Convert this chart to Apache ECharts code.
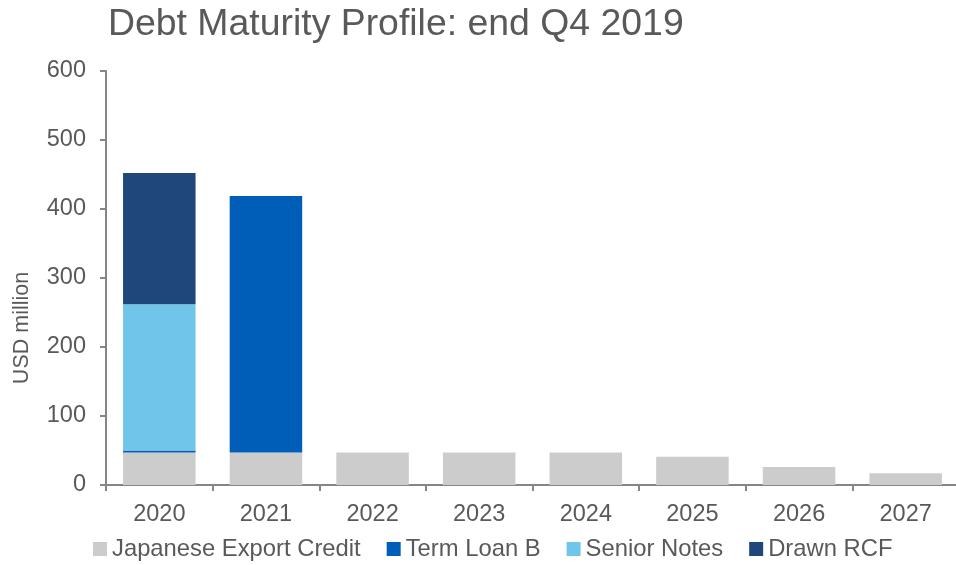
<!DOCTYPE html>
<html>
<head>
<meta charset="utf-8">
<script src="https://cdn.jsdelivr.net/npm/echarts@6/dist/echarts.min.js"></script>
<style>
  html, body { margin: 0; padding: 0; background: #fff; }
  #chart { width: 956px; height: 565px; }
</style>
</head>
<body>
<div id="chart"></div>
<script>
var years = ['2020', '2021', '2022', '2023', '2024', '2025', '2026', '2027'];
var japaneseExportCredit = [47, 47, 47, 47, 47, 41, 26, 17];
var termLoanB = [3, 372, 0, 0, 0, 0, 0, 0];
var seniorNotes = [212, 0, 0, 0, 0, 0, 0, 0];
var drawnRCF = [190, 0, 0, 0, 0, 0, 0, 0];
var yTicks = [0, 100, 200, 300, 400, 500, 600];

var chart = echarts.init(document.getElementById('chart'));
var txt = '#595959';
var axisCol = '#868686';

function bar(name, data, color) {
    return {
        name: name,
        type: 'bar',
        stack: 'total',
        barCategoryGap: '32%',
        itemStyle: { color: color },
        data: data
    };
}

var option = {
    backgroundColor: '#fff',
    textStyle: { fontFamily: 'Liberation Sans' },
    title: {
        text: 'Debt Maturity Profile: end Q4 2019',
        left: 103,
        top: 1,
        textStyle: { color: txt, fontSize: 37.4, fontWeight: 'normal', fontFamily: 'Liberation Sans' }
    },
    legend: {
        bottom: -1,
        left: 88,
        itemWidth: 14,
        itemHeight: 14,
        itemGap: 26,
        icon: 'rect',
        textStyle: { color: txt, fontSize: 23.8 },
        data: ['Japanese Export Credit', 'Term Loan B', 'Senior Notes', 'Drawn RCF']
    },
    grid: { left: 106, right: -3, top: 71, bottom: 80, outerBoundsMode: 'none' },
    xAxis: {
        type: 'category',
        data: years,
        axisLine: { lineStyle: { color: axisCol, width: 2 } },
        axisTick: { show: true, length: 6, lineStyle: { color: axisCol, width: 2 } },
        axisLabel: { color: txt, fontSize: 23.5, margin: 18 }
    },
    yAxis: {
        type: 'value',
        min: yTicks[0],
        max: yTicks[yTicks.length - 1],
        interval: 100,
        name: 'USD million',
        nameLocation: 'middle',
        nameGap: 73,
        nameTextStyle: { color: txt, fontSize: 21.5, padding: [0, 100, 0, 0] },
        splitLine: { show: false },
        axisLine: { show: true, lineStyle: { color: axisCol, width: 2 } },
        axisTick: { show: true, length: 6, lineStyle: { color: axisCol, width: 2 } },
        axisLabel: { color: txt, fontSize: 23.5, margin: 20 }
    },
    series: [
        bar('Japanese Export Credit', japaneseExportCredit, '#cccccc'),
        bar('Term Loan B', termLoanB, '#005eb8'),
        bar('Senior Notes', seniorNotes, '#70c6ea'),
        bar('Drawn RCF', drawnRCF, '#1f477b')
    ]
};
chart.setOption(option);
</script>
</body>
</html>
